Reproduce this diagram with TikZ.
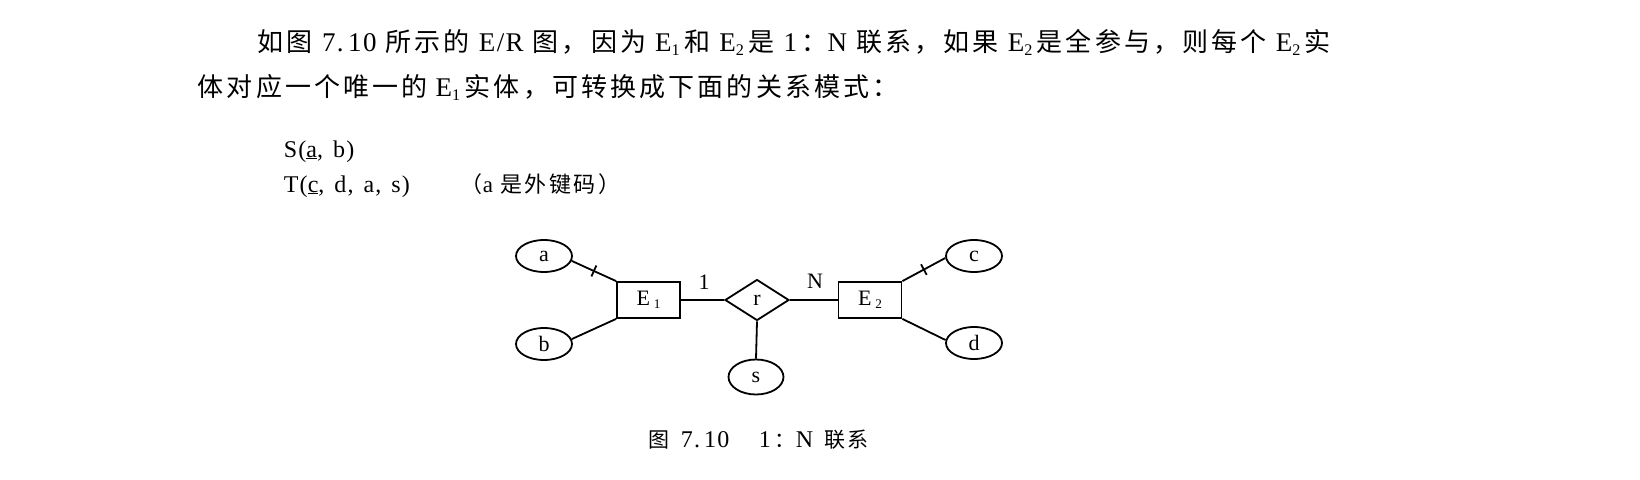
\documentclass[tikz,border=0pt]{standalone}
\usepackage{fontspec}
\usepackage{graphicx}
\setmainfont[LetterSpace=5]{Liberation Serif}
\newfontfamily\cjk[LetterSpace=12]{Noto Sans CJK SC}
\usetikzlibrary{shapes.geometric,calc}
\newcommand\zh[1]{{\cjk #1}}
\newcommand\esub[1]{\raisebox{-0.35ex}{\scalebox{0.6}{#1}}}
\newcommand\zhsize[1]{\fontsize{#1}{#1}\selectfont}
\newcommand\cm{,\hspace{10pt}}
\begin{document}
\begin{tikzpicture}[x=1pt,y=-1pt,line width=1.8pt,
  txt/.style={inner sep=0pt,anchor=base west},
  ent/.style={draw,rectangle,minimum width=63pt,minimum height=36pt,inner sep=0pt,font=\fontsize{22}{24}\selectfont},
  attr/.style={draw,ellipse,minimum width=56pt,minimum height=32pt,inner sep=0pt,font=\fontsize{22}{24}\selectfont},
  rel/.style={draw,diamond,minimum width=64pt,minimum height=41pt,inner sep=0pt,font=\fontsize{22}{24}\selectfont},
  lbl/.style={inner sep=0pt,font=\fontsize{22}{24}\selectfont}]
\useasboundingbox (0,0) rectangle (1640,479);
\fill[white] (0,0) rectangle (1640,479);
% paragraph
\node[txt] (l1) at (257,51) {\fontsize{27}{30}\selectfont\spaceskip=8pt plus 20pt
  \makebox[1073pt][s]{\zhsize{26}\zh{如图} \fontsize{27}{30}\selectfont 7.\,10 \zh{\zhsize{26}所示的} E/R \zh{\zhsize{26}图，因为} E\esub{1}\,\zh{\zhsize{26}和} E\esub{2}\,\zh{\zhsize{26}是} 1\,\zh{\zhsize{26}：}N \zh{\zhsize{26}联系，如果} E\esub{2}\,\zh{\zhsize{26}是全参与，则每个} E\esub{2}\,\zh{\zhsize{26}实}}};
\node[txt] (l2) at (197,96) {\fontsize{27}{30}\selectfont\spaceskip=8pt plus 20pt
  \makebox[688pt][s]{\zh{\zhsize{26}体对应一个唯一的} E\esub{1}\,\zh{\zhsize{26}实体，可转换成下面的关系模式：}}};
% schemas
\node[txt] (sS) at (283,157) {\fontsize{24}{26}\selectfont S(\underline{a}\cm b)};
\node[txt] (sT) at (283,192) {\fontsize{24}{26}\selectfont T(\underline{c}\cm d\cm a\cm s)};
\node[txt] (fk) at (460,192) {\fontsize{23}{26}\selectfont \zh{\zhsize{22}（}a \zh{\zhsize{22}是外键码）}};
% diagram
\node[ent] (E1) at (648.5,300) {E\,\esub{1}};
\node[ent] (E2) at (870,300) {E\,\esub{2}};
\node[rel] (r) at (757,300) {r};
\node[attr] (a) at (544,256) {a};
\node[attr] (b) at (544,344) {b};
\node[attr] (c) at (974,256) {c};
\node[attr] (d) at (974,343) {d};
\node[attr,minimum height=35pt,minimum width=55pt] (s) at (756,377) {s};
\draw (a.-10) -- coordinate[pos=0.5] (ta) (E1.north west);
\draw (b.10) -- (E1.south west);
\draw (E2.north east) -- coordinate[pos=0.5] (tc) (c.184);
\draw (E2.south east) -- (d.174);
\draw (E1.east) -- (r.west);
\draw (r.east) -- (E2.west);
\draw (r.south) -- (s.north);
\draw ($(ta)!6pt!90:(E1.north west)$) -- ($(ta)!6pt!-90:(E1.north west)$);
\draw ($(tc)!6pt!90:(c.184)$) -- ($(tc)!6pt!-90:(c.184)$);
\node[lbl] (one) at (704,282) {1};
\node[lbl] (N) at (815,281) {N};
% caption
\node[txt] (cap) at (648,447) {\fontsize{24}{26}\selectfont\spaceskip=6pt plus 20pt
  \makebox[220pt][s]{\zh{\zhsize{21}图} 7.\,10\hspace{16pt plus 10pt} 1\,\zh{\zhsize{21}：}N \zh{\zhsize{21}联系}}};
\end{tikzpicture}
\end{document}
